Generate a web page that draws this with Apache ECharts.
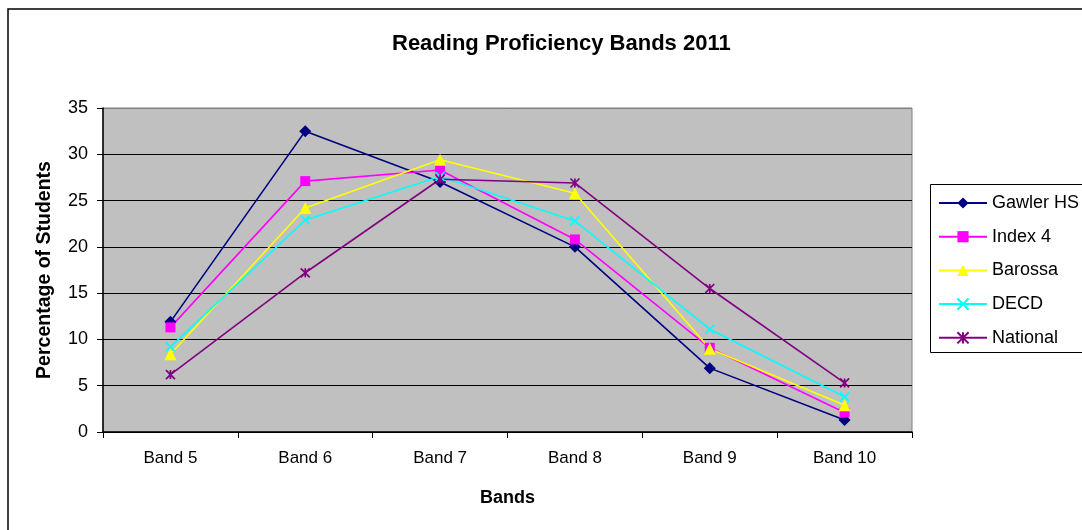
<!DOCTYPE html>
<html>
<head>
<meta charset="utf-8">
<script src="https://cdn.jsdelivr.net/npm/echarts@6/dist/echarts.min.js"></script>
<style>
  html, body { margin: 0; padding: 0; background: #fff; }
  #chart { width: 1082px; height: 530px; }
</style>
</head>
<body>
<div id="chart"></div>
<script>
// Reading proficiency bands, percentage of students per band
const bands = ['Band 5', 'Band 6', 'Band 7', 'Band 8', 'Band 9', 'Band 10'];
const gawlerHS = [11.9, 32.5, 27.0, 20.0, 6.9, 1.3];
const index4   = [11.3, 27.1, 28.3, 20.8, 9.1, 2.1];
const barossa  = [8.4, 24.2, 29.4, 25.8, 9.0, 2.9];
const decd     = [9.2, 22.9, 27.6, 22.8, 11.1, 3.8];
const national = [6.2, 17.2, 27.3, 26.9, 15.5, 5.3];
const yTicks = [0, 5, 10, 15, 20, 25, 30, 35];

const FONT = '"Liberation Sans", Arial, sans-serif';
const crossPath = 'path://M0,0L10,10M10,0L0,10';
const starPath = 'path://M0,0L10,10M10,0L0,10M5,0L5,10';

function lineSeries(name, data, color, symbol, size, stroked) {
  return {
    name: name,
    type: 'line',
    data: data,
    symbol: symbol,
    symbolSize: size,
    lineStyle: { color: color, width: 1.6 },
    itemStyle: stroked
      ? { color: 'rgba(0,0,0,0)', borderColor: color, borderWidth: 1.7 }
      : { color: color, borderColor: color, borderWidth: 0 },
    emphasis: { disabled: true },
    z: 3
  };
}

const chart = echarts.init(document.getElementById('chart'), null, { renderer: 'canvas' });
chart.setOption({
  animation: false,
  backgroundColor: '#ffffff',
  textStyle: { fontFamily: FONT },
  graphic: [
    {
      type: 'rect',
      shape: { x: 8, y: 9, width: 1200, height: 700 },
      style: { fill: 'none', stroke: '#000', lineWidth: 1.5 },
      z: 0
    },
    {
      type: 'rect',
      shape: { x: 930.5, y: 184.5, width: 300, height: 168 },
      style: { fill: '#fff', stroke: '#000', lineWidth: 1 },
      z: 1
    }
  ],
  title: {
    text: 'Reading Proficiency Bands 2011',
    left: 387,
    top: 28,
    textStyle: { fontFamily: FONT, fontSize: 22, fontWeight: 'bold', color: '#000' }
  },
  legend: {
    orient: 'vertical',
    left: 933,
    top: 188,
    itemWidth: 48,
    itemHeight: 14,
    itemGap: 13.7,
    textStyle: { fontFamily: FONT, fontSize: 18, color: '#000', lineHeight: 20 },
    data: ['Gawler HS', 'Index 4', 'Barossa', 'DECD', 'National'],
    z: 5
  },
  grid: {
    left: 103,
    top: 108,
    right: 170,
    bottom: 98,
    show: true,
    backgroundColor: '#C0C0C0',
    borderColor: '#808080',
    borderWidth: 1
  },
  xAxis: {
    type: 'category',
    data: bands,
    boundaryGap: true,
    name: 'Bands',
    nameLocation: 'middle',
    nameGap: 57,
    nameTextStyle: { fontFamily: FONT, fontSize: 18, fontWeight: 'bold', color: '#000' },
    axisLine: { lineStyle: { color: '#000', width: 1.5 } },
    axisTick: { show: true, length: 6, alignWithLabel: false, lineStyle: { color: '#000' } },
    axisLabel: { fontFamily: FONT, fontSize: 17, color: '#000', margin: 18 },
    splitLine: { show: false }
  },
  yAxis: {
    type: 'value',
    min: yTicks[0],
    max: yTicks[yTicks.length - 1],
    interval: 5,
    name: 'Percentage of Students',
    nameLocation: 'middle',
    nameGap: 48,
    nameTextStyle: { fontFamily: FONT, fontSize: 19.5, fontWeight: 'bold', color: '#000' },
    axisLine: { show: true, lineStyle: { color: '#000', width: 1.5 } },
    axisTick: { show: true, length: 6, lineStyle: { color: '#000' } },
    axisLabel: { fontFamily: FONT, fontSize: 18, color: '#000', margin: 15 },
    splitLine: {
      show: true,
      lineStyle: {
        color: ['#000', '#000', '#000', '#000', '#000', '#000', '#000', '#808080'],
        width: 1.2
      }
    }
  },
  series: [
    lineSeries('Gawler HS', gawlerHS, '#000080', 'diamond', 12, false),
    lineSeries('Index 4', index4, '#FF00FF', 'rect', 10, false),
    lineSeries('Barossa', barossa, '#FFFF00', 'triangle', 12, false),
    lineSeries('DECD', decd, '#00FFFF', crossPath, 9, true),
    lineSeries('National', national, '#800080', starPath, 9, true)
  ]
});
</script>
</body>
</html>
